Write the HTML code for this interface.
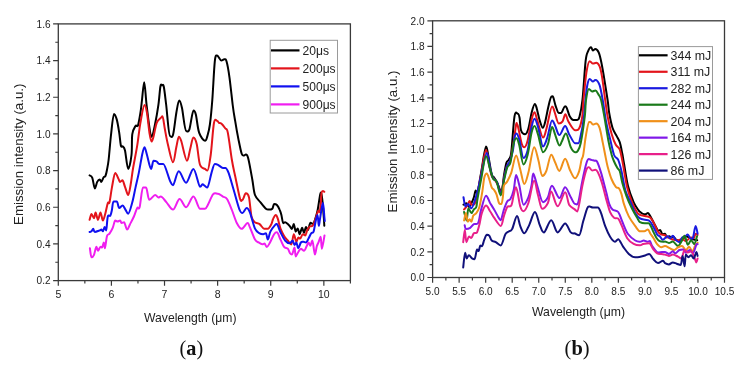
<!DOCTYPE html>
<html><head><meta charset="utf-8"><style>html,body{margin:0;padding:0;background:#fff;width:751px;height:368px;overflow:hidden}svg{display:block;filter:blur(0.35px)}</style></head>
<body><svg width="751" height="368" viewBox="0 0 751 368">
<rect x="58.3" y="23.9" width="292.10" height="256.70" fill="none" stroke="#3a3a3a" stroke-width="1.3"/>
<path d="M58.30 280.60V285.80M111.41 280.60V285.80M164.52 280.60V285.80M217.63 280.60V285.80M270.74 280.60V285.80M323.85 280.60V285.80M84.85 280.60V283.60M137.96 280.60V283.60M191.07 280.60V283.60M244.18 280.60V283.60M297.29 280.60V283.60M350.40 280.60V283.60M58.30 280.60H53.10M58.30 243.93H53.10M58.30 207.26H53.10M58.30 170.59H53.10M58.30 133.91H53.10M58.30 97.24H53.10M58.30 60.57H53.10M58.30 23.90H53.10M58.30 262.26H55.30M58.30 225.59H55.30M58.30 188.92H55.30M58.30 152.25H55.30M58.30 115.58H55.30M58.30 78.91H55.30M58.30 42.24H55.30" stroke="#3a3a3a" stroke-width="1.2" fill="none"/>
<rect x="432.6" y="20.8" width="291.90" height="256.70" fill="none" stroke="#3a3a3a" stroke-width="1.3"/>
<path d="M432.60 277.50V282.70M459.14 277.50V282.70M485.67 277.50V282.70M512.21 277.50V282.70M538.75 277.50V282.70M565.28 277.50V282.70M591.82 277.50V282.70M618.35 277.50V282.70M644.89 277.50V282.70M671.43 277.50V282.70M697.96 277.50V282.70M724.50 277.50V282.70M445.87 277.50V280.50M472.40 277.50V280.50M498.94 277.50V280.50M525.48 277.50V280.50M552.01 277.50V280.50M578.55 277.50V280.50M605.09 277.50V280.50M631.62 277.50V280.50M658.16 277.50V280.50M684.70 277.50V280.50M711.23 277.50V280.50M432.60 277.50H427.40M432.60 251.83H427.40M432.60 226.16H427.40M432.60 200.49H427.40M432.60 174.82H427.40M432.60 149.15H427.40M432.60 123.48H427.40M432.60 97.81H427.40M432.60 72.14H427.40M432.60 46.47H427.40M432.60 20.80H427.40M432.60 264.67H429.60M432.60 239.00H429.60M432.60 213.32H429.60M432.60 187.66H429.60M432.60 161.99H429.60M432.60 136.31H429.60M432.60 110.64H429.60M432.60 84.97H429.60M432.60 59.30H429.60M432.60 33.63H429.60" stroke="#3a3a3a" stroke-width="1.2" fill="none"/>
<text x="58.30" y="297.5" font-family="Liberation Sans, sans-serif" font-size="10.5" text-anchor="middle" fill="#222">5</text>
<text x="111.41" y="297.5" font-family="Liberation Sans, sans-serif" font-size="10.5" text-anchor="middle" fill="#222">6</text>
<text x="164.52" y="297.5" font-family="Liberation Sans, sans-serif" font-size="10.5" text-anchor="middle" fill="#222">7</text>
<text x="217.63" y="297.5" font-family="Liberation Sans, sans-serif" font-size="10.5" text-anchor="middle" fill="#222">8</text>
<text x="270.74" y="297.5" font-family="Liberation Sans, sans-serif" font-size="10.5" text-anchor="middle" fill="#222">9</text>
<text x="323.85" y="297.5" font-family="Liberation Sans, sans-serif" font-size="10.5" text-anchor="middle" fill="#222">10</text>
<text x="50.60" y="284.40" font-family="Liberation Sans, sans-serif" font-size="10.6" text-anchor="end" textLength="14.00" lengthAdjust="spacingAndGlyphs" fill="#222">0.2</text>
<text x="50.60" y="247.73" font-family="Liberation Sans, sans-serif" font-size="10.6" text-anchor="end" textLength="14.00" lengthAdjust="spacingAndGlyphs" fill="#222">0.4</text>
<text x="50.60" y="211.06" font-family="Liberation Sans, sans-serif" font-size="10.6" text-anchor="end" textLength="14.00" lengthAdjust="spacingAndGlyphs" fill="#222">0.6</text>
<text x="50.60" y="174.39" font-family="Liberation Sans, sans-serif" font-size="10.6" text-anchor="end" textLength="14.00" lengthAdjust="spacingAndGlyphs" fill="#222">0.8</text>
<text x="50.60" y="137.71" font-family="Liberation Sans, sans-serif" font-size="10.6" text-anchor="end" textLength="14.00" lengthAdjust="spacingAndGlyphs" fill="#222">1.0</text>
<text x="50.60" y="101.04" font-family="Liberation Sans, sans-serif" font-size="10.6" text-anchor="end" textLength="14.00" lengthAdjust="spacingAndGlyphs" fill="#222">1.2</text>
<text x="50.60" y="64.37" font-family="Liberation Sans, sans-serif" font-size="10.6" text-anchor="end" textLength="14.00" lengthAdjust="spacingAndGlyphs" fill="#222">1.4</text>
<text x="50.60" y="27.70" font-family="Liberation Sans, sans-serif" font-size="10.6" text-anchor="end" textLength="14.00" lengthAdjust="spacingAndGlyphs" fill="#222">1.6</text>
<text x="432.60" y="294.80" font-family="Liberation Sans, sans-serif" font-size="10.6" text-anchor="middle" textLength="14.00" lengthAdjust="spacingAndGlyphs" fill="#222">5.0</text>
<text x="459.14" y="294.80" font-family="Liberation Sans, sans-serif" font-size="10.6" text-anchor="middle" textLength="14.00" lengthAdjust="spacingAndGlyphs" fill="#222">5.5</text>
<text x="485.67" y="294.80" font-family="Liberation Sans, sans-serif" font-size="10.6" text-anchor="middle" textLength="14.00" lengthAdjust="spacingAndGlyphs" fill="#222">6.0</text>
<text x="512.21" y="294.80" font-family="Liberation Sans, sans-serif" font-size="10.6" text-anchor="middle" textLength="14.00" lengthAdjust="spacingAndGlyphs" fill="#222">6.5</text>
<text x="538.75" y="294.80" font-family="Liberation Sans, sans-serif" font-size="10.6" text-anchor="middle" textLength="14.00" lengthAdjust="spacingAndGlyphs" fill="#222">7.0</text>
<text x="565.28" y="294.80" font-family="Liberation Sans, sans-serif" font-size="10.6" text-anchor="middle" textLength="14.00" lengthAdjust="spacingAndGlyphs" fill="#222">7.5</text>
<text x="591.82" y="294.80" font-family="Liberation Sans, sans-serif" font-size="10.6" text-anchor="middle" textLength="14.00" lengthAdjust="spacingAndGlyphs" fill="#222">8.0</text>
<text x="618.35" y="294.80" font-family="Liberation Sans, sans-serif" font-size="10.6" text-anchor="middle" textLength="14.00" lengthAdjust="spacingAndGlyphs" fill="#222">8.5</text>
<text x="644.89" y="294.80" font-family="Liberation Sans, sans-serif" font-size="10.6" text-anchor="middle" textLength="14.00" lengthAdjust="spacingAndGlyphs" fill="#222">9.0</text>
<text x="671.43" y="294.80" font-family="Liberation Sans, sans-serif" font-size="10.6" text-anchor="middle" textLength="14.00" lengthAdjust="spacingAndGlyphs" fill="#222">9.5</text>
<text x="697.96" y="294.80" font-family="Liberation Sans, sans-serif" font-size="10.6" text-anchor="middle" textLength="19.60" lengthAdjust="spacingAndGlyphs" fill="#222">10.0</text>
<text x="724.50" y="294.80" font-family="Liberation Sans, sans-serif" font-size="10.6" text-anchor="middle" textLength="19.60" lengthAdjust="spacingAndGlyphs" fill="#222">10.5</text>
<text x="424.60" y="281.30" font-family="Liberation Sans, sans-serif" font-size="10.6" text-anchor="end" textLength="14.00" lengthAdjust="spacingAndGlyphs" fill="#222">0.0</text>
<text x="424.60" y="255.63" font-family="Liberation Sans, sans-serif" font-size="10.6" text-anchor="end" textLength="14.00" lengthAdjust="spacingAndGlyphs" fill="#222">0.2</text>
<text x="424.60" y="229.96" font-family="Liberation Sans, sans-serif" font-size="10.6" text-anchor="end" textLength="14.00" lengthAdjust="spacingAndGlyphs" fill="#222">0.4</text>
<text x="424.60" y="204.29" font-family="Liberation Sans, sans-serif" font-size="10.6" text-anchor="end" textLength="14.00" lengthAdjust="spacingAndGlyphs" fill="#222">0.6</text>
<text x="424.60" y="178.62" font-family="Liberation Sans, sans-serif" font-size="10.6" text-anchor="end" textLength="14.00" lengthAdjust="spacingAndGlyphs" fill="#222">0.8</text>
<text x="424.60" y="152.95" font-family="Liberation Sans, sans-serif" font-size="10.6" text-anchor="end" textLength="14.00" lengthAdjust="spacingAndGlyphs" fill="#222">1.0</text>
<text x="424.60" y="127.28" font-family="Liberation Sans, sans-serif" font-size="10.6" text-anchor="end" textLength="14.00" lengthAdjust="spacingAndGlyphs" fill="#222">1.2</text>
<text x="424.60" y="101.61" font-family="Liberation Sans, sans-serif" font-size="10.6" text-anchor="end" textLength="14.00" lengthAdjust="spacingAndGlyphs" fill="#222">1.4</text>
<text x="424.60" y="75.94" font-family="Liberation Sans, sans-serif" font-size="10.6" text-anchor="end" textLength="14.00" lengthAdjust="spacingAndGlyphs" fill="#222">1.6</text>
<text x="424.60" y="50.27" font-family="Liberation Sans, sans-serif" font-size="10.6" text-anchor="end" textLength="14.00" lengthAdjust="spacingAndGlyphs" fill="#222">1.8</text>
<text x="424.60" y="24.60" font-family="Liberation Sans, sans-serif" font-size="10.6" text-anchor="end" textLength="14.00" lengthAdjust="spacingAndGlyphs" fill="#222">2.0</text>
<text x="144.0" y="321.6" font-family="Liberation Sans, sans-serif" font-size="12.4" textLength="92.5" lengthAdjust="spacingAndGlyphs" fill="#222">Wavelength (μm)</text>
<text x="532.0" y="316.3" font-family="Liberation Sans, sans-serif" font-size="12.4" textLength="93" lengthAdjust="spacingAndGlyphs" fill="#222">Wavelength (μm)</text>
<text transform="translate(23.2,225.0) rotate(-90)" font-family="Liberation Sans, sans-serif" font-size="12.8" textLength="141.5" lengthAdjust="spacingAndGlyphs" fill="#222">Emission intensity (a.u.)</text>
<text transform="translate(397.0,212.5) rotate(-90)" font-family="Liberation Sans, sans-serif" font-size="12.8" textLength="142" lengthAdjust="spacingAndGlyphs" fill="#222">Emission Intensity (a.u.)</text>
<text x="179.6" y="355.3" font-family="Liberation Serif, serif" font-size="21" textLength="23.6" lengthAdjust="spacingAndGlyphs" fill="#111">(<tspan font-weight="bold">a</tspan>)</text>
<text x="564.6" y="355.3" font-family="Liberation Serif, serif" font-size="21" textLength="25" lengthAdjust="spacingAndGlyphs" fill="#111">(<tspan font-weight="bold">b</tspan>)</text>
<path d="M89.6 175.4C90.0 175.8 91.4 175.6 92.3 177.8C93.2 180.0 94.0 188.4 94.8 188.4C95.6 188.4 96.4 183.4 97.2 181.9C98.0 180.4 99.0 179.5 99.7 179.5C100.4 179.5 100.6 181.9 101.3 181.9C102.0 181.9 103.1 177.9 103.8 177.0C104.5 176.1 104.9 177.4 105.4 176.2C105.9 175.0 106.5 172.4 107.0 169.7C107.5 167.0 107.9 165.8 108.6 160.0C109.3 154.2 110.1 142.7 111.0 135.0C111.9 127.3 113.0 113.9 114.0 113.9C115.0 113.9 115.9 116.5 116.8 119.6C117.7 122.7 118.5 128.2 119.2 132.6C119.9 136.9 120.3 143.4 120.9 145.7C121.5 148.0 122.1 145.7 122.8 146.5C123.5 147.3 124.1 146.8 125.0 150.5C125.9 154.2 127.1 169.0 128.2 169.0C129.3 169.0 130.8 160.8 131.5 155.0C132.2 149.2 131.6 139.0 132.3 134.2C133.0 129.4 134.6 127.5 135.5 126.0C136.4 124.5 137.2 127.5 138.0 125.3C138.8 123.1 139.7 117.2 140.4 113.0C141.1 108.8 141.4 105.1 142.0 100.0C142.6 94.9 143.4 82.2 144.2 82.2C145.0 82.2 145.6 96.6 146.6 105.0C147.6 113.4 149.3 127.3 150.2 132.6C151.1 137.9 151.0 136.7 151.8 136.7C152.6 136.7 153.9 129.8 155.0 124.5C156.1 119.2 157.5 111.2 158.4 104.9C159.3 98.6 159.8 89.8 160.4 86.5C161.0 83.2 161.6 85.2 162.2 85.2C162.8 85.2 163.1 83.5 163.8 86.8C164.5 90.1 165.2 96.8 166.2 105.0C167.2 113.2 168.7 135.9 169.8 135.9C170.9 135.9 171.9 138.8 173.0 135.0C174.1 131.2 175.3 118.8 176.3 113.0C177.3 107.2 178.2 100.4 179.2 100.4C180.1 100.4 180.9 102.9 182.0 108.0C183.1 113.1 184.8 131.0 186.0 131.0C187.2 131.0 188.2 132.7 189.4 129.3C190.6 125.9 192.3 110.6 193.4 110.6C194.5 110.6 195.0 111.0 195.9 114.7C196.8 118.4 197.6 128.2 199.1 132.6C200.6 136.9 203.6 140.8 205.0 140.8C206.4 140.8 206.6 138.6 207.4 135.9C208.2 133.2 209.1 130.5 209.9 124.5C210.7 118.5 211.5 110.5 212.3 100.0C213.1 89.5 214.0 68.7 214.8 61.3C215.6 53.9 216.1 55.6 217.2 55.6C218.3 55.6 220.1 60.5 221.3 60.5C222.5 60.5 223.3 59.3 224.2 59.3C225.1 59.3 225.6 58.2 226.5 61.3C227.4 64.3 228.5 70.3 229.5 77.6C230.5 84.9 231.8 97.7 232.7 105.0C233.6 112.3 234.2 115.5 235.2 121.2C236.1 126.9 237.3 133.7 238.4 139.1C239.5 144.5 240.8 151.1 241.7 153.8C242.6 156.5 243.4 155.4 244.1 155.4C244.8 155.4 245.1 154.6 245.8 154.6C246.5 154.6 247.1 154.2 248.2 158.3C249.3 162.5 251.2 173.4 252.3 179.5C253.4 185.6 253.6 191.2 255.0 195.0C256.4 198.8 258.7 200.0 260.5 202.3C262.3 204.6 264.5 207.5 265.9 208.7C267.3 209.9 267.6 209.6 268.7 209.6C269.8 209.6 271.4 209.6 272.3 208.7C273.2 207.8 273.3 204.1 274.1 204.1C274.9 204.1 276.0 204.1 276.9 205.0C277.8 205.9 278.9 207.9 279.6 209.6C280.4 211.3 280.8 212.7 281.4 215.0C282.0 217.3 282.6 223.2 283.2 223.2C283.8 223.2 284.3 222.3 285.1 222.3C285.9 222.3 287.0 223.4 287.8 224.1C288.6 224.8 289.3 225.7 290.0 226.5C290.7 227.3 291.3 229.0 291.9 229.0C292.5 229.0 293.2 223.9 293.8 223.9C294.4 223.9 295.1 231.6 295.7 231.6C296.3 231.6 297.0 228.4 297.7 228.4C298.4 228.4 298.9 234.2 299.6 234.2C300.3 234.2 301.4 227.8 302.1 227.8C302.8 227.8 303.4 232.9 304.0 232.9C304.6 232.9 305.3 227.1 306.0 227.1C306.7 227.1 307.3 230.0 308.0 230.0C308.7 230.0 309.6 222.7 310.4 222.7C311.2 222.7 312.2 223.9 313.0 223.9C313.8 223.9 314.1 222.3 314.9 220.1C315.6 217.9 316.6 215.1 317.5 210.8C318.4 206.5 319.5 197.5 320.2 194.5C320.9 191.5 320.9 193.0 321.5 193.0C322.1 193.0 323.1 209.4 323.6 214.9C324.1 220.4 324.2 224.0 324.3 225.8" stroke="#000000" stroke-width="2.0" fill="none" stroke-linejoin="round" stroke-linecap="round"/>
<path d="M89.6 219.8C89.9 218.9 90.8 214.1 91.5 214.1C92.2 214.1 93.3 218.2 94.0 218.2C94.7 218.2 94.9 212.4 95.6 212.4C96.3 212.4 97.2 219.8 98.0 219.8C98.8 219.8 99.7 212.4 100.5 212.4C101.3 212.4 102.1 220.6 102.9 220.6C103.7 220.6 104.6 216.2 105.4 213.3C106.2 210.4 107.1 204.9 107.8 203.1C108.5 201.3 108.8 204.9 109.5 202.3C110.2 199.7 111.0 192.5 111.9 187.6C112.9 182.7 114.1 172.9 115.2 172.9C116.3 172.9 117.6 177.1 118.4 178.6C119.2 180.1 119.4 181.9 120.1 181.9C120.8 181.9 121.7 180.3 122.5 180.3C123.3 180.3 124.0 184.4 125.0 186.8C126.0 189.2 127.2 195.0 128.2 195.0C129.1 195.0 129.9 188.8 130.7 184.3C131.5 179.8 132.0 174.4 133.1 168.0C134.2 161.6 136.0 153.2 137.2 145.7C138.4 138.2 139.2 129.6 140.4 122.8C141.6 116.0 143.4 104.9 144.5 104.9C145.6 104.9 146.2 108.4 147.0 113.0C147.8 117.6 148.7 127.8 149.4 132.6C150.2 137.4 150.8 141.6 151.5 141.6C152.2 141.6 152.6 139.8 153.5 136.7C154.4 133.6 155.5 125.9 156.7 122.8C157.9 119.7 159.8 119.0 160.8 117.9C161.8 116.8 161.8 116.3 162.5 116.3C163.2 116.3 164.0 124.4 164.9 129.3C165.8 134.2 166.8 140.2 168.2 145.7C169.5 151.2 171.7 162.3 173.0 162.3C174.3 162.3 175.3 151.6 176.3 147.3C177.3 143.0 178.0 136.7 178.8 136.7C179.6 136.7 179.8 136.8 181.2 140.8C182.5 144.8 185.4 160.7 186.9 160.7C188.4 160.7 189.1 152.8 190.2 148.9C191.3 145.0 192.3 137.5 193.4 137.5C194.5 137.5 195.6 139.4 196.7 144.0C197.8 148.6 198.6 160.7 200.0 164.8C201.4 169.0 203.8 168.0 205.0 168.9C206.2 169.8 206.5 170.5 207.4 170.5C208.3 170.5 209.6 162.9 210.7 155.0C211.8 147.1 212.9 128.5 214.0 122.8C215.1 117.1 216.4 120.9 217.2 120.9C218.0 120.9 218.2 122.3 218.9 122.8C219.6 123.2 220.2 122.6 221.3 123.6C222.4 124.5 224.3 127.0 225.4 128.5C226.5 130.0 226.7 127.3 227.8 132.6C228.9 137.8 230.7 152.7 231.9 160.0C233.1 167.3 233.8 169.7 235.2 176.2C236.6 182.7 238.9 195.1 240.1 199.0C241.3 202.9 241.6 199.8 242.5 199.8C243.4 199.8 244.7 193.3 245.8 193.3C246.9 193.3 248.1 193.5 249.0 197.4C249.9 201.3 250.5 212.3 251.5 216.5C252.5 220.7 253.7 221.0 255.0 222.3C256.4 223.6 258.1 223.0 259.6 224.1C261.1 225.2 262.7 228.7 264.1 228.7C265.5 228.7 266.6 228.7 267.8 228.7C269.0 228.7 270.5 225.8 271.4 224.1C272.3 222.4 272.4 220.2 273.2 218.7C273.9 217.2 275.1 215.0 275.9 215.0C276.7 215.0 277.0 216.4 277.8 218.7C278.6 221.0 279.4 225.8 280.5 228.7C281.6 231.6 282.9 234.0 284.1 236.0C285.3 238.0 286.6 239.1 287.8 240.5C289.0 241.9 290.3 244.4 291.3 244.4C292.3 244.4 293.0 234.2 293.8 234.2C294.6 234.2 295.6 241.8 296.4 241.8C297.1 241.8 297.7 237.4 298.3 237.4C298.9 237.4 299.4 238.6 300.2 238.6C300.9 238.6 301.9 234.2 302.8 234.2C303.7 234.2 304.6 235.4 305.3 235.4C306.0 235.4 306.4 231.8 307.2 230.3C307.9 228.8 308.9 227.2 309.8 226.5C310.7 225.8 311.6 226.5 312.4 225.9C313.1 225.3 313.6 224.5 314.3 222.7C315.0 220.9 316.2 216.9 316.8 214.9C317.4 212.9 317.8 210.8 318.2 210.8C318.6 210.8 319.1 212.2 319.5 212.2C319.9 212.2 320.6 205.9 320.9 202.7C321.2 199.5 321.2 195.1 321.5 193.2C321.8 191.3 322.4 191.1 322.9 191.1C323.4 191.1 324.1 191.7 324.3 191.8" stroke="#e3141b" stroke-width="2.0" fill="none" stroke-linejoin="round" stroke-linecap="round"/>
<path d="M89.6 232.0C89.9 231.9 90.9 231.7 91.5 231.2C92.1 230.7 92.7 228.8 93.2 228.8C93.8 228.8 93.7 232.0 94.8 232.0C95.9 232.0 98.6 230.8 99.7 230.4C100.8 230.0 100.8 229.6 101.3 229.6C101.8 229.6 102.4 231.2 102.9 231.2C103.5 231.2 104.0 227.1 104.6 227.1C105.1 227.1 105.7 230.4 106.2 230.4C106.7 230.4 107.1 218.9 107.8 216.5C108.5 214.1 109.6 216.8 110.3 215.7C111.0 214.6 111.4 212.4 111.9 210.0C112.4 207.6 112.7 201.5 113.5 201.5C114.3 201.5 115.8 201.5 116.8 201.5C117.8 201.5 118.2 208.0 119.2 208.0C120.2 208.0 121.5 205.5 122.5 205.5C123.5 205.5 124.0 207.4 125.0 208.8C126.0 210.2 127.0 213.7 128.2 213.7C129.4 213.7 131.1 206.7 132.3 202.3C133.5 198.0 134.4 192.5 135.5 187.6C136.6 182.7 137.7 178.3 138.8 172.9C139.9 167.5 141.2 159.3 142.1 155.0C143.0 150.7 143.7 147.3 144.5 147.3C145.3 147.3 145.9 151.4 147.0 155.0C148.1 158.6 149.9 168.9 151.0 168.9C152.1 168.9 152.6 160.7 153.5 160.7C154.4 160.7 155.8 160.9 156.7 161.5C157.6 162.1 158.1 164.0 159.2 164.0C160.3 164.0 161.5 164.0 163.3 164.0C165.1 164.0 168.2 176.8 169.8 180.3C171.4 183.8 171.5 185.2 173.0 185.2C174.5 185.2 176.6 171.3 178.8 171.3C181.0 171.3 183.7 182.7 186.1 182.7C188.5 182.7 191.1 168.9 193.4 168.9C195.7 168.9 198.5 186.8 200.0 186.8C201.5 186.8 201.6 184.3 202.4 184.3C203.2 184.3 204.2 185.4 205.0 186.0C205.8 186.6 206.3 187.6 207.4 187.6C208.5 187.6 210.3 176.8 211.5 172.9C212.7 169.0 213.7 164.0 214.8 164.0C215.9 164.0 216.7 164.1 218.0 164.8C219.3 165.5 221.7 168.0 222.9 168.0C224.1 168.0 224.5 168.0 225.4 168.0C226.3 168.0 227.2 169.4 228.6 172.9C229.9 176.4 231.7 183.2 233.5 189.2C235.3 195.2 237.7 204.9 239.2 208.8C240.7 212.8 241.3 212.9 242.5 212.9C243.7 212.9 245.4 208.0 246.6 208.0C247.8 208.0 248.4 208.7 249.8 212.1C251.2 215.5 253.4 225.2 255.0 228.7C256.6 232.2 258.2 232.4 259.6 233.3C261.0 234.2 262.1 234.2 263.2 234.2C264.2 234.2 265.1 233.3 265.9 233.3C266.7 233.3 267.0 239.6 267.8 239.6C268.6 239.6 269.3 233.8 270.5 231.4C271.7 229.0 273.9 226.3 275.0 225.1C276.1 223.9 276.0 224.1 276.9 224.1C277.8 224.1 279.1 229.6 280.5 232.3C281.9 235.0 283.6 238.7 285.1 240.5C286.6 242.3 288.4 243.3 289.6 243.3C290.9 243.3 291.8 240.5 292.6 240.5C293.4 240.5 293.9 245.0 294.5 245.0C295.1 245.0 295.8 242.5 296.4 242.5C297.0 242.5 297.6 248.2 298.3 248.2C299.1 248.2 300.0 243.6 300.9 242.5C301.8 241.4 302.5 241.8 303.4 241.8C304.2 241.8 305.1 242.5 306.0 242.5C306.9 242.5 307.6 240.1 308.5 238.6C309.4 237.1 310.2 234.7 311.1 233.5C312.0 232.3 312.9 233.5 313.6 231.6C314.3 229.7 314.9 224.8 315.5 222.0C316.1 219.2 316.9 214.9 317.5 214.9C318.1 214.9 318.4 225.8 318.8 225.8C319.2 225.8 319.5 221.4 320.2 217.6C320.9 213.8 322.2 202.7 322.9 202.7C323.6 202.7 324.0 213.2 324.3 216.3C324.6 219.4 324.7 220.2 324.8 221.0" stroke="#1010f0" stroke-width="2.0" fill="none" stroke-linejoin="round" stroke-linecap="round"/>
<path d="M89.9 248.3C90.2 249.8 90.8 257.3 91.5 257.3C92.2 257.3 93.2 256.6 94.0 254.8C94.8 253.0 95.7 246.7 96.4 246.7C97.1 246.7 97.3 250.8 98.0 250.8C98.7 250.8 99.8 246.7 100.5 246.7C101.2 246.7 101.5 247.5 102.1 247.5C102.6 247.5 103.3 242.6 103.8 242.6C104.3 242.6 104.4 248.3 104.9 248.3C105.4 248.3 106.2 238.6 107.0 236.1C107.8 233.6 108.5 235.0 109.5 233.6C110.5 232.2 111.8 230.1 112.7 227.9C113.7 225.7 114.4 220.6 115.2 220.6C116.0 220.6 116.8 221.4 117.6 221.4C118.4 221.4 119.4 220.6 120.1 220.6C120.8 220.6 121.0 223.0 121.7 223.0C122.4 223.0 123.2 222.2 124.1 222.2C125.0 222.2 126.1 229.6 127.1 229.6C128.1 229.6 128.7 226.9 129.8 224.7C130.9 222.5 132.7 219.3 133.9 216.5C135.1 213.7 136.2 209.6 137.2 208.0C138.1 206.4 138.6 210.6 139.6 207.2C140.6 203.8 141.8 187.6 142.9 187.6C144.0 187.6 145.0 187.6 146.1 187.6C147.2 187.6 147.9 199.8 149.4 199.8C150.9 199.8 153.6 195.0 155.1 195.0C156.6 195.0 157.4 197.4 158.4 197.4C159.4 197.4 159.5 196.6 160.8 196.6C162.2 196.6 164.5 200.1 166.5 202.3C168.5 204.5 170.8 209.6 173.0 209.6C175.2 209.6 177.4 199.0 179.6 199.0C181.8 199.0 183.8 207.2 186.1 207.2C188.4 207.2 191.1 196.6 193.4 196.6C195.7 196.6 198.1 208.8 200.0 208.8C201.9 208.8 203.6 208.8 205.0 208.8C206.4 208.8 206.9 206.4 208.3 203.9C209.7 201.4 211.6 195.8 213.2 194.1C214.8 192.4 216.4 193.8 218.0 193.8C219.6 193.8 221.4 195.7 222.9 196.6C224.4 197.5 225.5 196.8 227.0 199.0C228.5 201.2 230.3 206.0 231.9 210.0C233.5 214.0 235.2 219.9 236.8 223.0C238.4 226.1 239.9 228.8 241.7 228.8C243.5 228.8 246.1 223.0 247.4 223.0C248.8 223.0 248.5 224.3 249.8 227.1C251.1 229.9 253.5 237.0 255.0 239.6C256.5 242.2 257.4 241.6 258.6 242.4C259.8 243.2 261.3 244.2 262.3 244.2C263.3 244.2 263.8 243.5 264.5 243.5C265.2 243.5 265.9 246.9 266.8 246.9C267.7 246.9 268.4 245.4 269.6 243.3C270.8 241.2 272.9 236.0 274.1 234.2C275.3 232.4 275.8 232.3 276.9 232.3C278.0 232.3 279.3 237.2 280.5 239.6C281.7 242.0 282.9 245.4 284.1 246.9C285.3 248.4 286.8 247.6 287.8 248.7C288.8 249.8 289.3 252.3 290.0 253.3C290.7 254.3 291.1 254.6 291.9 254.6C292.6 254.6 293.9 247.6 294.5 247.6C295.1 247.6 295.1 256.5 295.7 256.5C296.3 256.5 297.4 253.3 298.3 252.0C299.2 250.7 299.9 248.8 300.9 248.8C301.8 248.8 303.1 250.8 304.0 250.8C304.9 250.8 305.9 247.7 306.6 246.3C307.4 244.9 307.9 242.5 308.5 242.5C309.1 242.5 309.8 245.7 310.4 245.7C311.0 245.7 311.6 240.5 312.4 240.5C313.1 240.5 314.2 254.6 314.9 254.6C315.6 254.6 316.2 248.4 316.8 246.3C317.4 244.2 318.1 243.4 318.7 241.8C319.3 240.2 320.2 236.7 320.7 236.7C321.2 236.7 321.3 248.8 321.9 248.8C322.5 248.8 324.1 237.6 324.5 235.4" stroke="#f01ef0" stroke-width="2.0" fill="none" stroke-linejoin="round" stroke-linecap="round"/>
<path d="M463.5 204.6C464.0 204.4 465.7 203.3 466.6 203.3C467.5 203.3 468.2 207.0 469.0 207.0C469.8 207.0 470.7 204.6 471.5 203.0C472.3 201.4 473.2 199.3 473.9 197.2C474.6 195.1 475.1 190.5 475.7 190.5C476.2 190.5 476.3 193.0 477.2 193.0C478.1 193.0 479.6 180.3 481.1 172.6C482.6 164.8 484.8 146.5 486.0 146.5C487.2 146.5 487.4 151.7 488.4 156.3C489.3 160.9 490.8 170.7 491.7 174.2C492.6 177.7 493.2 176.0 494.1 177.5C495.1 179.0 496.2 180.8 497.4 183.2C498.6 185.6 500.4 192.2 501.5 192.2C502.6 192.2 503.1 180.8 503.9 175.9C504.7 171.0 505.6 165.5 506.4 162.8C507.2 160.1 508.0 161.4 508.8 159.6C509.6 157.8 510.4 159.4 511.3 152.2C512.2 145.0 513.4 122.7 514.5 116.3C515.6 109.9 516.9 113.7 517.7 113.7C518.6 113.7 519.1 115.2 519.6 118.0C520.1 120.8 520.1 127.5 521.0 130.2C521.9 132.9 523.9 134.2 525.1 134.2C526.3 134.2 527.3 132.2 528.4 128.5C529.5 124.8 530.7 116.0 531.8 111.9C532.9 107.8 534.0 104.0 534.8 104.0C535.6 104.0 535.9 105.5 536.7 108.2C537.5 111.0 538.7 117.2 539.7 120.5C540.7 123.8 541.9 127.8 542.8 127.8C543.7 127.8 544.3 125.2 545.2 121.7C546.1 118.2 547.3 111.2 548.3 107.0C549.3 102.8 550.6 96.6 551.4 96.6C552.2 96.6 552.5 95.7 553.2 97.2C553.9 98.7 554.7 103.2 555.6 105.8C556.5 108.4 557.8 113.1 558.7 113.1C559.6 113.1 560.1 113.1 561.1 113.1C562.1 113.1 563.9 106.4 564.8 106.4C565.7 106.4 565.8 106.0 566.6 107.6C567.4 109.2 568.6 114.2 569.7 116.2C570.8 118.2 572.2 119.9 573.4 119.9C574.6 119.9 576.0 119.9 577.0 119.9C578.0 119.9 578.6 120.2 579.5 116.8C580.4 113.4 581.5 109.0 582.5 99.7C583.5 90.4 584.7 69.2 585.6 61.2C586.5 53.2 587.1 53.7 588.0 51.4C588.9 49.1 590.2 47.3 591.0 47.3C591.8 47.3 592.2 50.6 592.9 50.6C593.6 50.6 594.4 49.0 595.4 49.0C596.4 49.0 597.6 50.2 598.6 52.2C599.6 54.2 600.3 57.5 601.1 61.2C601.9 64.9 602.4 67.7 603.5 74.2C604.6 80.7 606.6 93.5 607.6 100.0C608.6 106.5 608.4 108.4 609.2 113.0C610.0 117.6 611.3 123.9 612.5 127.7C613.7 131.5 615.4 133.5 616.6 135.9C617.8 138.3 618.8 139.4 619.8 142.4C620.8 145.4 621.6 150.4 622.3 153.8C623.0 157.2 622.9 157.6 623.9 163.0C624.9 168.4 626.4 179.4 628.0 186.0C629.6 192.6 631.9 198.2 633.7 202.3C635.5 206.4 637.6 208.8 638.6 210.4C639.6 212.0 639.4 211.2 640.0 211.7C640.6 212.2 641.5 213.2 642.4 213.6C643.3 214.0 644.6 214.2 645.5 214.2C646.4 214.2 647.2 212.9 647.9 212.9C648.6 212.9 649.1 214.3 649.8 215.4C650.5 216.5 651.3 218.0 652.2 219.7C653.1 221.4 654.3 224.0 655.3 225.8C656.3 227.6 657.5 230.7 658.3 230.7C659.1 230.7 659.5 230.1 660.2 230.1C660.9 230.1 661.8 234.3 662.6 234.3C663.4 234.3 664.4 233.7 665.1 233.7C665.8 233.7 666.2 237.4 666.9 237.4C667.6 237.4 668.6 236.2 669.3 236.2C670.0 236.2 670.6 238.0 671.2 238.0C671.8 238.0 672.2 236.2 673.0 236.2C673.8 236.2 674.7 238.7 676.0 239.5C677.3 240.3 679.3 241.1 680.9 241.1C682.5 241.1 684.2 236.2 685.8 236.2C687.4 236.2 689.4 238.0 690.7 238.6C692.1 239.2 692.8 239.2 693.9 239.5C695.0 239.8 696.7 240.2 697.2 240.3" stroke="#000000" stroke-width="2.0" fill="none" stroke-linejoin="round" stroke-linecap="round"/>
<path d="M464.1 209.4C464.6 208.8 466.1 207.4 467.0 206.0C467.9 204.6 468.9 200.9 469.6 200.9C470.3 200.9 470.6 204.6 471.4 204.6C472.2 204.6 473.6 205.4 474.5 204.0C475.4 202.6 475.9 200.8 477.0 196.0C478.1 191.2 479.5 182.7 481.0 175.0C482.5 167.3 484.6 150.0 486.0 150.0C487.4 150.0 488.2 160.7 489.2 165.0C490.1 169.3 490.9 173.7 491.7 176.0C492.5 178.3 493.2 177.7 494.1 179.0C495.1 180.3 496.2 181.7 497.4 184.0C498.5 186.3 499.9 193.0 501.0 193.0C502.1 193.0 503.0 182.5 504.0 178.0C505.0 173.5 506.0 168.7 507.0 166.0C508.0 163.3 508.9 165.8 510.0 162.0C511.1 158.2 512.5 149.2 513.5 143.0C514.5 136.8 515.5 127.7 516.1 124.5C516.7 121.3 516.7 124.1 517.1 124.1C517.5 124.1 517.8 126.0 518.6 129.3C519.4 132.6 520.8 141.0 521.8 144.0C522.8 147.0 523.3 147.3 524.3 147.3C525.3 147.3 526.4 145.4 527.6 140.8C528.8 136.2 530.5 124.4 531.6 119.6C532.8 114.8 533.5 112.2 534.5 112.2C535.5 112.2 535.9 116.2 537.3 120.4C538.7 124.6 541.5 137.5 543.0 137.5C544.5 137.5 544.8 134.5 546.3 129.3C547.8 124.1 550.6 106.4 552.0 106.4C553.4 106.4 553.3 108.5 554.4 111.3C555.5 114.1 557.4 123.5 558.7 123.5C560.0 123.5 561.3 123.2 562.4 121.7C563.5 120.2 564.4 114.3 565.4 114.3C566.4 114.3 566.9 119.1 568.5 121.7C570.1 124.3 573.2 130.2 575.0 130.2C576.8 130.2 577.9 130.8 579.1 128.5C580.3 126.2 581.6 121.0 582.3 116.3C583.0 111.5 582.8 107.3 583.5 100.0C584.2 92.7 585.4 79.1 586.4 72.6C587.4 66.1 588.6 61.2 589.7 61.2C590.8 61.2 591.8 63.6 592.9 63.6C594.0 63.6 595.1 62.8 596.2 62.8C597.3 62.8 598.5 63.9 599.5 66.1C600.5 68.3 600.9 70.2 601.9 75.9C602.9 81.6 604.2 93.3 605.2 100.0C606.2 106.7 606.5 110.6 607.6 116.3C608.7 122.0 610.3 129.4 611.7 134.2C613.1 138.9 614.4 142.2 615.8 144.8C617.1 147.4 618.6 146.3 619.8 149.7C621.0 153.1 621.9 158.7 623.1 165.0C624.3 171.3 625.7 181.4 627.2 187.6C628.7 193.8 630.5 198.2 632.1 202.3C633.7 206.4 635.7 210.2 637.0 212.3C638.3 214.4 638.7 214.2 640.0 214.8C641.3 215.4 643.6 215.7 644.9 216.0C646.2 216.3 646.9 216.2 647.9 216.6C648.9 217.0 649.9 217.1 651.0 218.4C652.1 219.7 653.6 222.4 654.7 224.6C655.8 226.8 656.7 229.7 657.7 231.3C658.7 232.9 659.7 233.7 660.8 234.3C661.9 234.9 663.2 234.5 664.4 235.0C665.6 235.5 666.9 236.7 668.1 237.4C669.3 238.1 670.2 238.7 671.8 239.2C673.4 239.7 675.9 240.3 677.6 240.3C679.3 240.3 680.6 239.0 682.0 239.0C683.4 239.0 684.4 240.9 685.9 240.9C687.4 240.9 689.4 237.5 690.7 237.5C692.0 237.5 693.1 238.0 693.9 238.0C694.7 238.0 695.0 233.7 695.6 233.7C696.2 233.7 697.3 234.8 697.6 235.0" stroke="#e3141b" stroke-width="2.0" fill="none" stroke-linejoin="round" stroke-linecap="round"/>
<path d="M463.5 197.2C463.8 198.7 464.6 206.4 465.3 206.4C466.1 206.4 467.0 204.0 468.0 204.0C469.0 204.0 470.2 208.2 471.4 208.2C472.6 208.2 474.0 202.9 475.1 199.7C476.2 196.4 477.2 192.6 478.2 188.7C479.2 184.8 479.6 181.9 481.0 176.0C482.4 170.1 485.3 153.0 486.8 153.0C488.3 153.0 489.0 163.8 490.0 168.0C491.0 172.2 491.8 175.7 493.0 178.0C494.2 180.3 495.7 179.3 497.0 182.0C498.3 184.7 499.8 194.0 501.0 194.0C502.2 194.0 503.0 183.7 504.0 179.0C505.0 174.3 506.0 169.0 507.0 166.0C508.0 163.0 509.0 163.7 510.0 161.0C511.0 158.3 512.2 153.9 513.0 150.0C513.8 146.1 513.9 140.3 514.5 137.5C515.1 134.7 515.8 133.4 516.6 133.4C517.4 133.4 518.2 135.9 519.4 140.0C520.5 144.1 522.1 157.9 523.5 157.9C524.9 157.9 526.2 155.7 527.6 150.5C529.0 145.3 530.4 132.2 531.6 126.9C532.8 121.6 533.5 118.8 534.6 118.8C535.7 118.8 536.8 123.1 538.2 127.7C539.6 132.3 541.5 146.5 543.0 146.5C544.5 146.5 545.6 142.7 547.1 138.3C548.6 134.0 550.6 120.4 552.0 120.4C553.4 120.4 554.1 123.6 555.3 126.1C556.5 128.5 557.8 135.1 559.4 135.1C561.0 135.1 563.5 126.1 565.1 126.1C566.7 126.1 567.5 131.3 569.1 134.2C570.8 137.0 573.5 143.2 575.0 143.2C576.5 143.2 577.2 143.2 578.3 143.2C579.4 143.2 580.5 136.3 581.5 131.8C582.5 127.3 583.3 121.6 584.0 116.3C584.7 111.0 585.0 105.1 585.5 100.0C586.0 94.9 586.5 89.2 587.2 85.7C587.9 82.2 588.8 79.1 589.7 79.1C590.7 79.1 592.0 81.6 592.9 81.6C593.8 81.6 594.3 79.9 595.4 79.9C596.5 79.9 598.3 81.5 599.5 84.8C600.7 88.1 601.6 93.9 602.7 100.0C603.8 106.1 604.8 114.7 606.0 121.2C607.2 127.7 608.8 133.5 610.1 139.1C611.5 144.7 612.8 151.5 614.1 155.0C615.5 158.5 617.0 157.2 618.2 159.9C619.4 162.6 620.3 166.1 621.5 171.3C622.7 176.5 623.9 185.5 625.5 190.9C627.1 196.3 629.7 200.2 631.3 203.9C632.9 207.6 633.8 210.8 635.3 213.2C636.8 215.6 638.4 217.3 640.0 218.4C641.6 219.5 643.5 219.4 644.9 219.7C646.3 220.0 647.6 219.8 648.6 220.3C649.6 220.8 650.1 221.4 651.0 222.7C651.9 224.0 653.1 226.3 654.1 228.2C655.1 230.1 656.1 232.9 657.1 234.3C658.1 235.7 659.3 235.9 660.2 236.8C661.1 237.7 661.8 239.8 662.6 239.8C663.4 239.8 664.3 238.6 665.1 238.0C665.9 237.4 666.8 236.3 667.6 236.3C668.5 236.3 669.3 238.3 670.2 238.3C671.1 238.3 671.9 235.7 672.8 235.7C673.7 235.7 674.3 238.5 675.4 239.6C676.5 240.7 678.2 242.2 679.3 242.2C680.4 242.2 681.0 238.6 682.0 237.6C683.0 236.6 684.2 236.8 685.2 236.3C686.2 235.8 686.9 234.4 687.8 234.4C688.7 234.4 689.5 238.3 690.4 238.3C691.3 238.3 692.1 239.7 693.0 237.6C693.9 235.5 694.8 225.9 695.6 225.9C696.4 225.9 697.3 232.4 697.6 233.7" stroke="#1a1ae0" stroke-width="2.0" fill="none" stroke-linejoin="round" stroke-linecap="round"/>
<path d="M464.1 211.9C464.5 213.3 465.9 220.5 466.6 220.5C467.3 220.5 467.6 208.2 468.4 208.2C469.2 208.2 470.5 213.1 471.4 213.1C472.3 213.1 473.1 210.4 473.9 209.4C474.7 208.4 475.7 208.8 476.3 207.0C476.9 205.2 476.8 202.9 477.6 198.4C478.4 193.9 479.6 187.0 481.0 180.0C482.4 173.0 484.5 156.3 486.0 156.3C487.5 156.3 488.9 165.5 490.1 169.3C491.3 173.1 492.2 177.1 493.3 179.1C494.4 181.1 495.4 178.9 496.6 181.6C497.8 184.3 499.5 195.4 500.7 195.4C501.9 195.4 502.8 185.4 503.9 180.8C505.0 176.2 506.1 170.7 507.2 167.7C508.3 164.7 509.3 166.9 510.4 162.8C511.5 158.7 512.7 147.4 513.7 143.3C514.7 139.2 515.7 138.3 516.6 138.3C517.5 138.3 518.2 141.3 519.4 145.7C520.5 150.1 522.1 164.5 523.5 164.5C524.9 164.5 526.2 160.3 527.6 155.0C529.0 149.7 530.4 137.4 531.6 132.6C532.8 127.8 533.5 126.1 534.6 126.1C535.7 126.1 536.8 130.8 538.2 135.1C539.6 139.4 541.4 152.2 543.0 152.2C544.6 152.2 546.5 148.2 548.0 144.0C549.5 139.8 550.8 126.9 552.0 126.9C553.2 126.9 554.1 132.0 555.3 135.1C556.5 138.2 558.3 145.5 559.4 145.5C560.5 145.5 560.7 143.6 561.8 141.6C562.9 139.6 564.4 133.4 565.9 133.4C567.4 133.4 569.3 144.2 570.8 147.3C572.3 150.4 573.9 152.2 575.0 152.2C576.1 152.2 576.4 152.9 577.4 151.4C578.4 149.9 579.5 149.0 580.7 143.2C581.9 137.3 583.9 123.5 584.8 116.3C585.7 109.1 585.3 104.6 586.0 100.0C586.7 95.4 587.9 88.9 588.9 88.9C589.9 88.9 591.0 91.4 592.1 91.4C593.2 91.4 594.3 90.5 595.4 90.5C596.5 90.5 597.6 93.0 598.6 94.6C599.6 96.2 600.2 96.4 601.1 100.0C602.0 103.6 603.1 109.5 604.3 116.3C605.5 123.1 607.2 134.4 608.4 140.8C609.6 147.2 610.8 151.6 611.7 155.0C612.7 158.4 613.2 159.3 614.1 161.5C615.0 163.7 616.5 166.4 617.4 168.0C618.3 169.6 619.0 168.9 619.8 171.3C620.6 173.8 621.2 178.6 622.3 182.7C623.4 186.8 624.8 191.5 626.4 195.8C628.0 200.2 630.2 205.0 632.1 208.8C634.0 212.7 636.5 216.7 637.8 218.9C639.1 221.1 638.8 221.4 640.0 222.1C641.2 222.8 643.5 223.3 644.9 223.3C646.3 223.3 647.6 223.3 648.6 223.3C649.6 223.3 650.2 225.0 651.0 226.4C651.8 227.8 652.5 230.0 653.4 231.9C654.3 233.8 655.5 236.5 656.5 238.0C657.5 239.5 658.5 240.5 659.6 241.1C660.7 241.7 662.3 241.7 663.2 241.7C664.1 241.7 664.0 241.6 665.0 241.6C666.0 241.6 667.6 242.9 668.9 242.9C670.2 242.9 671.3 241.6 672.8 241.6C674.3 241.6 676.6 246.1 678.0 246.1C679.4 246.1 680.2 243.3 681.3 241.6C682.4 239.9 683.5 235.7 684.6 235.7C685.7 235.7 686.7 244.8 687.8 244.8C688.9 244.8 690.0 240.3 691.1 240.3C692.2 240.3 693.3 244.2 694.3 244.2C695.3 244.2 696.5 237.6 697.0 236.3" stroke="#1a7a1a" stroke-width="2.0" fill="none" stroke-linejoin="round" stroke-linecap="round"/>
<path d="M464.1 220.5C464.4 219.3 465.3 213.1 465.9 213.1C466.5 213.1 467.2 221.7 467.8 221.7C468.4 221.7 469.0 219.2 469.6 219.2C470.2 219.2 470.8 221.7 471.4 221.7C472.0 221.7 472.5 217.0 473.3 215.6C474.1 214.2 475.3 214.5 476.3 213.1C477.3 211.7 478.4 210.7 479.4 207.0C480.4 203.3 481.6 196.0 482.4 191.1C483.2 186.2 483.6 180.4 484.3 177.5C485.0 174.6 486.0 173.4 486.8 173.4C487.6 173.4 488.4 176.8 489.2 179.1C490.0 181.4 490.9 185.5 491.7 187.3C492.5 189.1 493.3 188.8 494.1 190.0C494.9 191.2 495.8 192.4 496.6 194.6C497.4 196.8 498.2 201.4 499.0 203.0C499.8 204.6 500.8 203.9 501.5 203.9C502.2 203.9 502.7 197.9 503.1 194.9C503.5 191.9 503.2 187.9 503.9 185.7C504.6 183.5 506.0 183.8 507.2 181.6C508.4 179.4 509.8 176.9 511.3 172.6C512.8 168.2 514.6 155.5 516.1 155.5C517.6 155.5 518.8 164.6 520.2 169.3C521.6 174.1 522.9 184.0 524.3 184.0C525.7 184.0 526.8 178.7 528.4 172.6C530.0 166.5 532.5 147.3 534.1 147.3C535.7 147.3 536.9 154.8 538.2 159.6C539.6 164.4 540.9 175.9 542.2 175.9C543.6 175.9 544.8 174.5 546.3 171.0C547.8 167.5 549.7 154.7 551.2 154.7C552.7 154.7 553.9 160.1 555.3 162.8C556.7 165.5 557.8 171.0 559.4 171.0C561.0 171.0 563.3 158.8 565.1 158.8C566.9 158.8 568.4 166.9 570.0 170.2C571.6 173.4 573.5 178.3 575.0 178.3C576.5 178.3 578.0 174.4 579.1 171.3C580.2 168.2 580.8 162.7 581.5 160.0C582.2 157.3 582.5 158.8 583.2 155.0C583.9 151.2 584.7 143.0 585.6 137.5C586.5 132.0 588.1 122.0 588.9 122.0C589.7 122.0 589.8 122.0 590.5 122.0C591.2 122.0 591.9 124.5 592.9 124.5C593.9 124.5 595.1 123.6 596.2 123.6C597.3 123.6 598.4 124.6 599.5 127.7C600.6 130.8 601.8 137.8 602.7 142.4C603.7 147.0 604.4 151.0 605.2 155.0C606.0 159.0 606.5 162.3 607.6 166.4C608.7 170.5 610.3 176.1 611.7 179.5C613.1 182.9 614.6 185.3 615.8 186.8C617.0 188.3 618.0 187.2 619.0 188.4C620.0 189.6 620.7 191.5 621.5 194.1C622.3 196.7 622.7 200.2 623.9 203.9C625.1 207.6 626.9 212.7 628.8 216.4C630.7 220.1 633.4 223.7 635.3 226.2C637.2 228.7 638.5 231.3 640.0 231.3C641.5 231.3 643.0 231.3 644.3 231.3C645.6 231.3 646.9 229.4 647.9 229.4C648.9 229.4 649.5 232.3 650.4 233.7C651.3 235.1 652.3 236.3 653.4 238.0C654.5 239.7 655.8 242.6 657.1 244.1C658.4 245.6 660.1 247.2 661.4 247.2C662.7 247.2 663.6 246.1 665.0 246.1C666.4 246.1 668.1 247.4 669.6 248.1C671.1 248.8 672.7 250.0 674.1 250.0C675.5 250.0 676.7 248.1 678.0 247.4C679.3 246.8 680.7 246.1 682.0 246.1C683.3 246.1 684.7 250.0 685.9 250.0C687.1 250.0 688.0 246.8 689.1 246.8C690.2 246.8 691.4 251.3 692.4 251.3C693.4 251.3 694.1 247.5 695.0 246.1C695.9 244.7 697.2 243.4 697.6 242.9" stroke="#f0901a" stroke-width="2.0" fill="none" stroke-linejoin="round" stroke-linecap="round"/>
<path d="M464.7 225.3C464.9 225.9 465.1 229.0 466.0 229.0C466.9 229.0 468.9 228.6 470.2 227.8C471.5 227.0 472.6 224.9 473.9 224.1C475.2 223.3 477.0 225.3 478.2 222.9C479.4 220.5 479.9 213.9 481.2 209.4C482.5 204.9 484.5 195.7 486.0 195.7C487.5 195.7 488.8 200.7 490.1 203.0C491.5 205.3 492.8 207.3 494.1 209.6C495.5 211.9 497.1 215.1 498.2 216.9C499.3 218.7 499.8 220.2 500.7 220.2C501.6 220.2 502.8 212.7 503.9 209.6C505.0 206.5 506.1 203.2 507.2 201.4C508.3 199.6 509.3 200.9 510.4 199.0C511.5 197.1 512.8 194.0 513.7 190.0C514.7 186.0 515.2 175.1 516.1 175.1C517.0 175.1 518.2 180.8 519.4 185.7C520.6 190.6 522.0 204.7 523.5 204.7C525.0 204.7 527.0 200.6 528.4 197.3C529.8 194.0 530.8 189.0 531.6 185.0C532.4 181.0 532.3 173.4 533.3 173.4C534.2 173.4 535.7 181.2 537.3 186.0C538.9 190.8 541.2 202.2 543.0 202.2C544.8 202.2 546.4 200.1 547.9 197.3C549.4 194.6 550.1 185.7 552.0 185.7C553.9 185.7 557.2 198.0 559.4 198.0C561.6 198.0 563.2 187.3 565.1 187.3C567.0 187.3 569.1 194.5 570.8 197.3C572.4 200.1 573.8 203.9 575.0 203.9C576.2 203.9 577.1 206.1 578.3 202.3C579.5 198.5 580.9 187.6 582.3 181.1C583.6 174.6 585.3 166.9 586.4 163.2C587.5 159.5 588.1 159.1 588.9 159.1C589.7 159.1 590.3 159.6 591.3 159.9C592.2 160.2 593.6 160.4 594.6 160.7C595.6 161.0 595.9 159.5 597.0 161.5C598.1 163.5 599.6 167.9 601.1 172.9C602.6 177.9 604.6 186.2 606.0 191.3C607.4 196.5 608.1 200.8 609.2 203.8C610.3 206.8 611.0 208.1 612.5 209.5C614.0 210.9 616.6 210.0 618.2 212.0C619.8 214.0 620.7 218.0 622.3 221.7C623.9 225.4 625.8 230.9 628.0 234.0C630.2 237.1 633.3 239.2 635.3 240.5C637.3 241.8 638.6 241.7 640.0 241.7C641.4 241.7 642.5 240.5 643.7 240.5C644.9 240.5 646.3 241.7 647.3 241.7C648.3 241.7 649.0 241.1 649.8 241.1C650.6 241.1 650.8 244.1 652.2 246.0C653.6 247.9 656.4 252.5 658.0 252.5C659.6 252.5 660.8 252.0 662.0 252.0C663.2 252.0 663.9 252.0 665.0 252.0C666.1 252.0 667.6 253.9 668.9 253.9C670.2 253.9 671.7 251.3 672.8 251.3C673.9 251.3 674.3 253.3 675.4 253.3C676.5 253.3 678.0 250.7 679.3 250.0C680.6 249.3 682.2 249.4 683.3 249.4C684.4 249.4 684.8 252.6 685.9 252.6C687.0 252.6 688.6 250.0 689.8 250.0C691.0 250.0 691.9 253.3 693.0 253.3C694.1 253.3 695.5 246.3 696.3 244.8C697.1 243.3 697.4 244.3 697.6 244.2" stroke="#8018e8" stroke-width="2.0" fill="none" stroke-linejoin="round" stroke-linecap="round"/>
<path d="M463.2 242.2C463.5 240.1 464.3 229.9 464.8 229.9C465.3 229.9 465.7 242.2 466.4 242.2C467.1 242.2 468.1 236.5 468.9 236.5C469.7 236.5 470.5 238.1 471.3 238.1C472.1 238.1 472.9 234.1 473.8 233.2C474.8 232.2 476.1 233.9 477.0 232.4C477.9 230.9 478.7 227.5 479.5 224.2C480.3 220.9 480.8 215.9 481.9 212.8C483.0 209.7 484.6 205.5 486.0 205.5C487.4 205.5 488.8 209.2 490.1 211.2C491.5 213.2 492.3 215.2 494.1 217.7C495.9 220.1 499.1 225.9 500.7 225.9C502.3 225.9 502.8 219.2 503.9 216.1C505.0 213.0 506.0 208.9 507.2 207.1C508.4 205.3 510.2 207.5 511.3 205.5C512.4 203.5 512.9 197.9 513.7 194.9C514.5 191.9 515.0 187.3 516.1 187.3C517.2 187.3 519.0 202.3 520.2 206.3C521.4 210.3 522.1 211.2 523.5 211.2C524.9 211.2 526.6 208.1 528.4 203.0C530.2 197.9 532.5 180.8 534.1 180.8C535.7 180.8 536.6 190.3 538.0 195.0C539.4 199.7 540.6 208.8 542.2 208.8C543.9 208.8 546.4 205.9 547.9 203.0C549.4 200.1 549.6 191.4 551.2 191.4C552.8 191.4 555.4 206.3 557.7 206.3C560.0 206.3 563.2 192.2 565.1 192.2C567.0 192.2 567.5 201.8 569.1 204.7C570.8 207.6 573.6 208.5 575.0 209.6C576.4 210.7 576.2 211.5 577.4 211.5C578.6 211.5 580.8 193.0 582.3 186.0C583.8 179.0 585.3 172.8 586.4 169.7C587.5 166.6 587.9 167.2 588.9 167.2C589.9 167.2 591.0 170.5 592.1 170.5C593.2 170.5 594.5 169.7 595.4 169.7C596.3 169.7 596.7 169.9 597.8 172.1C598.9 174.3 600.4 177.8 601.9 182.7C603.4 187.6 605.4 196.4 606.8 201.3C608.2 206.2 608.9 209.3 610.1 212.1C611.3 214.8 612.8 216.7 614.1 217.8C615.5 218.9 617.0 217.4 618.2 218.6C619.4 219.8 620.0 221.9 621.5 225.2C623.0 228.5 625.2 235.1 627.2 238.2C629.2 241.3 631.6 242.7 633.7 243.9C635.8 245.1 638.4 245.3 640.0 245.3C641.6 245.3 641.6 244.4 643.1 244.1C644.6 243.8 647.4 243.3 649.1 243.3C650.8 243.3 651.9 247.5 653.2 249.2C654.6 250.9 655.9 252.5 657.2 253.3C658.6 254.1 660.0 253.9 661.3 254.1C662.6 254.3 663.7 254.3 665.0 254.6C666.3 254.9 667.6 255.9 668.9 255.9C670.2 255.9 671.3 254.6 672.8 254.6C674.3 254.6 676.6 256.0 678.0 256.6C679.4 257.2 680.2 258.5 681.3 258.5C682.4 258.5 683.5 250.0 684.6 250.0C685.7 250.0 686.7 252.6 687.8 252.6C688.9 252.6 690.0 251.3 691.1 251.3C692.2 251.3 693.4 255.3 694.3 257.2C695.2 259.0 695.8 262.4 696.3 262.4C696.8 262.4 697.4 259.1 697.6 258.5" stroke="#e8208a" stroke-width="2.0" fill="none" stroke-linejoin="round" stroke-linecap="round"/>
<path d="M463.2 267.4C463.5 264.9 464.5 252.7 465.1 252.7C465.7 252.7 466.1 258.4 466.7 258.4C467.3 258.4 468.0 255.2 468.9 255.2C469.8 255.2 471.2 257.7 472.1 258.4C473.1 259.1 473.8 259.2 474.6 259.2C475.4 259.2 476.3 249.5 477.0 249.5C477.7 249.5 478.1 251.1 478.6 251.1C479.2 251.1 479.8 245.4 480.3 245.4C480.9 245.4 481.2 246.2 481.9 246.2C482.6 246.2 483.5 241.6 484.3 239.7C485.1 237.8 486.0 234.8 486.8 234.8C487.6 234.8 488.4 234.7 489.2 235.6C490.0 236.5 490.6 239.4 491.7 240.5C492.8 241.6 494.3 241.3 495.8 242.1C497.3 242.9 499.1 245.4 500.7 245.4C502.3 245.4 504.1 236.3 505.5 234.0C506.9 231.7 507.7 232.3 508.8 231.5C509.9 230.7 510.7 231.7 512.1 229.1C513.5 226.5 515.6 216.1 517.0 216.1C518.4 216.1 519.0 223.1 520.2 225.9C521.4 228.8 522.8 233.2 524.3 233.2C525.8 233.2 527.4 228.6 529.2 225.1C531.0 221.6 533.1 212.0 534.9 212.0C536.7 212.0 538.3 221.7 539.8 225.1C541.3 228.5 542.0 232.4 543.9 232.4C545.8 232.4 548.9 220.2 551.2 220.2C553.5 220.2 555.4 232.4 557.7 232.4C560.0 232.4 562.9 223.4 565.1 223.4C567.3 223.4 569.1 230.7 570.8 232.4C572.4 234.1 573.6 233.0 575.0 233.5C576.4 234.0 577.7 235.2 579.1 235.2C580.5 235.2 581.9 225.8 583.2 221.3C584.6 216.8 586.1 210.8 587.2 208.3C588.3 205.9 588.8 206.6 589.7 206.6C590.7 206.6 591.5 207.4 592.9 207.4C594.2 207.4 596.4 207.4 597.8 207.4C599.2 207.4 599.9 210.1 601.1 213.2C602.3 216.3 603.7 222.3 605.2 226.2C606.7 230.1 608.5 234.2 610.1 236.8C611.7 239.4 613.6 241.7 615.0 241.7C616.4 241.7 616.9 239.2 618.2 239.2C619.6 239.2 621.3 244.1 623.1 246.6C624.9 249.1 626.8 252.1 628.8 253.9C630.8 255.7 633.5 257.2 635.3 257.2C637.1 257.2 637.8 257.2 639.4 256.9C641.0 256.6 643.5 256.0 645.1 255.5C646.7 255.0 647.9 253.9 649.2 253.9C650.6 253.9 651.7 257.5 653.2 259.0C654.7 260.5 656.4 263.1 658.0 263.1C659.6 263.1 661.7 260.7 662.9 260.7C664.1 260.7 664.0 262.5 665.0 263.1C666.0 263.7 667.6 264.4 668.9 264.4C670.2 264.4 671.5 262.4 672.8 262.4C674.1 262.4 675.4 263.3 676.7 263.7C678.0 264.1 679.6 265.0 680.6 265.0C681.6 265.0 681.9 255.9 682.6 255.9C683.3 255.9 684.1 266.3 684.6 266.3C685.1 266.3 685.2 254.6 685.9 254.6C686.5 254.6 687.6 257.2 688.5 257.2C689.4 257.2 690.2 255.2 691.1 255.2C692.0 255.2 692.8 258.5 693.7 258.5C694.6 258.5 695.6 252.0 696.3 252.0C696.9 252.0 697.4 255.2 697.6 255.9" stroke="#10107a" stroke-width="2.0" fill="none" stroke-linejoin="round" stroke-linecap="round"/>
<rect x="270.2" y="40.3" width="67.30000000000001" height="72.7" fill="#fff" stroke="#9a9a9a" stroke-width="1"/>
<line x1="271" y1="50.40" x2="299.5" y2="50.40" stroke="#000" stroke-width="2.2"/>
<text x="302.6" y="55.00" font-family="Liberation Sans, sans-serif" font-size="13" textLength="26.5" lengthAdjust="spacingAndGlyphs" fill="#222">20μs</text>
<line x1="271" y1="68.40" x2="299.5" y2="68.40" stroke="#e3141b" stroke-width="2.2"/>
<text x="302.6" y="73.00" font-family="Liberation Sans, sans-serif" font-size="13" textLength="33" lengthAdjust="spacingAndGlyphs" fill="#222">200μs</text>
<line x1="271" y1="86.40" x2="299.5" y2="86.40" stroke="#1010f0" stroke-width="2.2"/>
<text x="302.6" y="91.00" font-family="Liberation Sans, sans-serif" font-size="13" textLength="33" lengthAdjust="spacingAndGlyphs" fill="#222">500μs</text>
<line x1="271" y1="104.40" x2="299.5" y2="104.40" stroke="#f01ef0" stroke-width="2.2"/>
<text x="302.6" y="109.00" font-family="Liberation Sans, sans-serif" font-size="13" textLength="33" lengthAdjust="spacingAndGlyphs" fill="#222">900μs</text>
<rect x="638.4" y="46.6" width="74.10000000000002" height="132.8" fill="#fff" stroke="#9a9a9a" stroke-width="1"/>
<line x1="639" y1="55.30" x2="667.6" y2="55.30" stroke="#000" stroke-width="2.2"/>
<text x="670.6" y="59.70" font-family="Liberation Sans, sans-serif" font-size="12.4" fill="#222">344 mJ</text>
<line x1="639" y1="71.77" x2="667.6" y2="71.77" stroke="#e3141b" stroke-width="2.2"/>
<text x="670.6" y="76.17" font-family="Liberation Sans, sans-serif" font-size="12.4" fill="#222">311 mJ</text>
<line x1="639" y1="88.24" x2="667.6" y2="88.24" stroke="#1a1ae0" stroke-width="2.2"/>
<text x="670.6" y="92.64" font-family="Liberation Sans, sans-serif" font-size="12.4" fill="#222">282 mJ</text>
<line x1="639" y1="104.71" x2="667.6" y2="104.71" stroke="#1a7a1a" stroke-width="2.2"/>
<text x="670.6" y="109.11" font-family="Liberation Sans, sans-serif" font-size="12.4" fill="#222">244 mJ</text>
<line x1="639" y1="121.18" x2="667.6" y2="121.18" stroke="#f0901a" stroke-width="2.2"/>
<text x="670.6" y="125.58" font-family="Liberation Sans, sans-serif" font-size="12.4" fill="#222">204 mJ</text>
<line x1="639" y1="137.65" x2="667.6" y2="137.65" stroke="#8018e8" stroke-width="2.2"/>
<text x="670.6" y="142.05" font-family="Liberation Sans, sans-serif" font-size="12.4" fill="#222">164 mJ</text>
<line x1="639" y1="154.12" x2="667.6" y2="154.12" stroke="#e8208a" stroke-width="2.2"/>
<text x="670.6" y="158.52" font-family="Liberation Sans, sans-serif" font-size="12.4" fill="#222">126 mJ</text>
<line x1="639" y1="170.59" x2="667.6" y2="170.59" stroke="#10107a" stroke-width="2.2"/>
<text x="670.6" y="174.99" font-family="Liberation Sans, sans-serif" font-size="12.4" fill="#222">86 mJ</text>
</svg></body></html>
